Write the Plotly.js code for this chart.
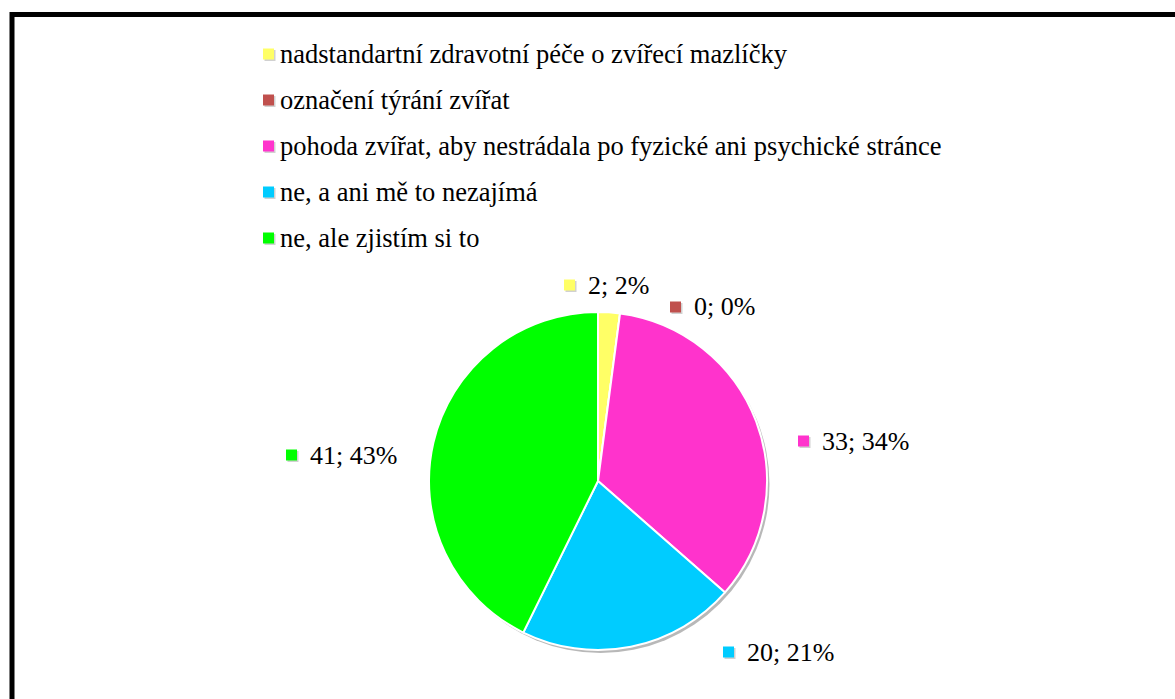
<!DOCTYPE html>
<html>
<head>
<meta charset="utf-8">
<script src="https://cdn.plot.ly/plotly-3.0.1.min.js"></script>
<style>html,body{margin:0;padding:0;background:#fff;}#chart{width:1175px;height:699px;}</style>
</head>
<body>
<div id="chart"></div>
<script>
const categories = [
  "nadstandartní zdravotní péče o zvířecí mazlíčky",
  "označení týrání zvířat",
  "pohoda zvířat, aby nestrádala po fyzické ani psychické stránce",
  "ne, a ani mě to nezajímá",
  "ne, ale zjistím si to"
];
const counts = [2, 0, 33, 20, 41];
const colors = ["#FFFF66", "#C0504D", "#FF33CC", "#00CCFF", "#00FF00"];
// data-label text start / centre-line positions (pixels), layout only
const labelPos = [[588, 285], [694, 307], [822, 441], [747, 652], [310, 455]];

const W = 1175, H = 699;
const total = counts.reduce((a, b) => a + b, 0);
const pct = counts.map(v => Math.round(v / total * 100));
const font = "'Liberation Serif', 'Times New Roman', serif";

const cx = 598, cy = 481, r = 169;
const legendTextX = 280, legendY0 = 54, legendStep = 46;
const px = x => x / W, py = y => 1 - y / H;

const annotations = [];
const shapes = [];

function keySquare(color, right, cyy) {
  const s = 11;
  shapes.push({type: "rect", xref: "paper", yref: "paper", layer: "above",
    x0: px(right - s + 1.5), x1: px(right + 1.5), y0: py(cyy + s / 2 + 1.5), y1: py(cyy - s / 2 + 1.5),
    fillcolor: "rgba(0,0,0,0.18)", line: {width: 0}});
  shapes.push({type: "rect", xref: "paper", yref: "paper", layer: "above",
    x0: px(right - s), x1: px(right), y0: py(cyy + s / 2), y1: py(cyy - s / 2),
    fillcolor: color, line: {width: 0}});
}

counts.forEach((v, i) => {
  const [tx, ty] = labelPos[i];
  annotations.push({
    xref: "paper", yref: "paper", x: px(tx - 2), y: py(ty),
    xanchor: "left", yanchor: "middle", showarrow: false,
    text: v + "; " + pct[i] + "%",
    font: {family: font, size: 26, color: "#000"}
  });
  keySquare(colors[i], tx - 13, ty);
});

categories.forEach((c, i) => {
  const ty = legendY0 + i * legendStep;
  annotations.push({
    xref: "paper", yref: "paper", x: px(legendTextX - 2), y: py(ty),
    xanchor: "left", yanchor: "middle", showarrow: false,
    text: c,
    font: {family: font, size: 26.5, color: "#000"}
  });
  keySquare(colors[i], legendTextX - 6, ty);
});

shapes.push({
  type: "rect", xref: "paper", yref: "paper",
  x0: px(12), x1: 1.02, y0: -0.02, y1: py(14.5),
  line: {color: "#000", width: 5}
});

const dom = (dx, dy) => ({x: [px(cx - r + dx), px(cx + r + dx)], y: [py(cy + r + dy), py(cy - r + dy)]});

const data = [{
  type: "pie", values: [1], labels: ["shadow"], showlegend: false,
  marker: {colors: ["rgba(0,0,0,0.28)"], line: {width: 0}},
  textinfo: "none", hoverinfo: "skip", sort: false,
  domain: dom(2.5, 3)
}, {
  type: "pie",
  labels: categories,
  values: counts,
  marker: {colors: colors, line: {color: "#fff", width: 2}},
  sort: false,
  direction: "clockwise",
  rotation: 0,
  textinfo: "none",
  hoverinfo: "label+value+percent",
  domain: dom(0, 0)
}];

const layout = {
  width: W, height: H,
  margin: {l: 0, r: 0, t: 0, b: 0},
  paper_bgcolor: "#fff",
  font: {family: font, size: 26, color: "#000"},
  showlegend: false,
  annotations: annotations,
  shapes: shapes
};

Plotly.newPlot("chart", data, layout, {displayModeBar: false, staticPlot: true});
</script>
</body>
</html>
